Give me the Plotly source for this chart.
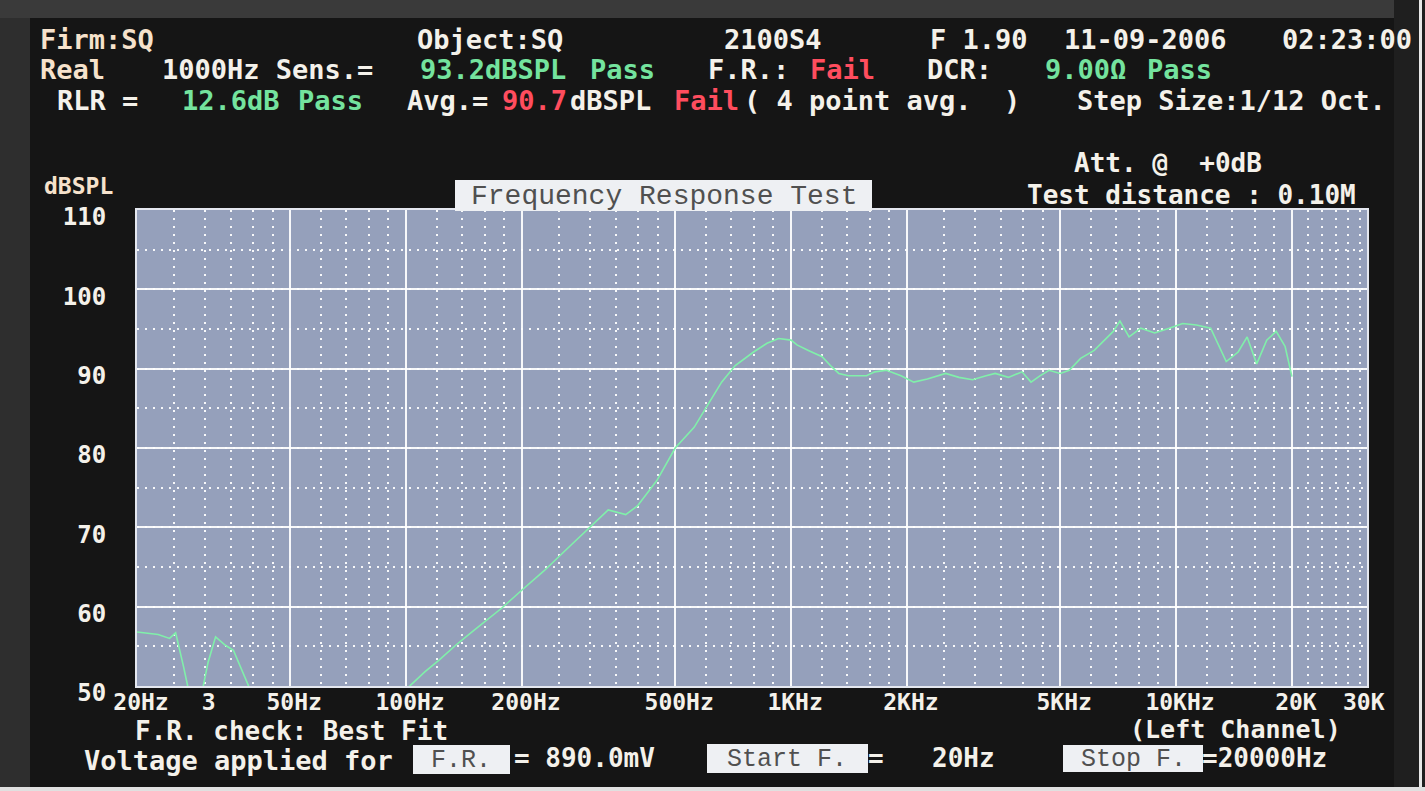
import plotly.graph_objects as go

# ---------------- data ----------------
freq_hz = [20, 21.5, 22.7, 24.3, 25.2, 26.4, 27.5, 29.3, 30.6, 32.0, 33.0, 34.0, 35.6, 37.4, 39.3,
           42, 46, 49, 53, 60, 75, 90, 103.5, 112, 122, 135, 150, 163, 177, 200, 228, 262, 302,
           335, 372, 399, 448, 500, 560, 608, 660, 716, 799, 866, 928, 1000, 1036, 1109, 1204,
           1265, 1330, 1410, 1570, 1650, 1770, 1930, 2083, 2260, 2520, 2730, 2960, 3210, 3390,
           3670, 3980, 4200, 4430, 4680, 5000, 5280, 5650, 6130, 6500, 6870, 7150, 7550, 8100,
           8800, 9600, 10400, 11300, 12300, 13500, 14500, 15300, 16200, 17200, 18200, 19200, 20000]
spl_db = [56.8, 56.6, 56.5, 56.0, 56.7, 52.5, 48.5, 48.5, 53.0, 56.2, 55.6, 55.1, 54.5, 52.0, 49.6,
          48.0, 49.3, 49.8, 48.3, 47.0, 46.5, 47.5, 50.2, 51.8, 53.3, 55.2, 57.0, 58.4, 59.8, 62.1,
          64.5, 67.3, 70.1, 72.2, 71.6, 72.7, 75.9, 80.0, 82.6, 85.5, 88.3, 90.4, 92.1, 93.2, 93.8,
          93.6, 93.0, 92.3, 91.5, 90.4, 89.4, 89.1, 89.1, 89.6, 89.8, 89.1, 88.3, 88.7, 89.4, 88.9,
          88.6, 89.1, 89.4, 88.9, 89.6, 88.3, 89.1, 89.8, 89.4, 89.8, 91.3, 92.3, 93.6, 94.7, 96.0,
          94.0, 95.1, 94.5, 95.1, 95.7, 95.5, 95.1, 90.9, 92.1, 94.0, 90.6, 93.6, 94.7, 92.8, 89.0]

x_label_vals = [20, 30, 50, 100, 200, 500, 1000, 2000, 5000, 10000, 20000, 30000]
x_label_text = ["20Hz", "3", "50Hz", "100Hz", "200Hz", "500Hz", "1KHz", "2KHz", "5KHz",
                "10KHz", "20K", "30K"]
x_major_grid = [50, 100, 200, 500, 1000, 2000, 5000, 10000, 20000]
x_minor_grid = [25, 30, 35, 40, 45, 60, 70, 80, 90, 120, 140, 160, 180, 250, 300, 350, 400, 450,
                600, 700, 800, 900, 1200, 1400, 1600, 1800, 2500, 3000, 3500, 4000, 4500,
                6000, 7000, 8000, 9000, 12000, 14000, 16000, 18000, 22000, 24000, 26000, 28000, 30000]
y_tick_vals = [50, 60, 70, 80, 90, 100, 110]

# ---------------- geometry ----------------
W, H = 1425, 791
L, R, T, B = 137, 1367, 210, 686
XRANGE = [1.30103, 4.496]


def px(x):
    return (x - L) / (R - L)


def py(y):
    return (B - y) / (B - T)


MONO = "DejaVu Sans Mono"
WHITE = "#f4f1ea"
CREAM = "#f6e2cc"
GREEN = "#74e39e"
RED = "#ff4d5e"
BOXTXT = "#505050"

fig = go.Figure()
fig.add_trace(go.Scatter(x=freq_hz, y=spl_db, mode="lines",
                         line=dict(color="#80f0aa", width=1.6),
                         showlegend=False, hoverinfo="skip"))
fig.add_trace(go.Scatter(x=x_label_vals, y=[None] * len(x_label_vals), xaxis="x2",
                         mode="lines", showlegend=False, hoverinfo="skip"))

texts = [
    ("Firm:SQ", 38, 40, CREAM, 27), ("Object:SQ", 415, 40, WHITE, 27), ("2100S4", 722, 40, WHITE, 27),
    ("F 1.90", 928, 40, WHITE, 27), ("11-09-2006", 1062, 40, WHITE, 27), ("02:23:00", 1280, 40, WHITE, 27),
    ("Real", 38, 70, CREAM, 27), ("1000Hz Sens.=", 160, 70, WHITE, 27), ("93.2dBSPL", 418, 70, GREEN, 27),
    ("Pass", 588, 70, GREEN, 27), ("F.R.:", 706, 70, WHITE, 27), ("Fail", 808, 70, RED, 27),
    ("DCR:", 925, 70, WHITE, 27), ("9.00Ω", 1043, 70, GREEN, 27), ("Pass", 1145, 70, GREEN, 27),
    ("RLR =", 55, 101, WHITE, 27), ("12.6dB", 180, 101, GREEN, 27), ("Pass", 296, 101, GREEN, 27),
    ("Avg.=", 405, 101, WHITE, 27), ("90.7", 500, 101, RED, 27), ("dBSPL", 568, 101, WHITE, 27),
    ("Fail", 672, 101, RED, 27), ("( 4 point avg.  )", 742, 101, WHITE, 27),
    ("Step Size:1/12 Oct.", 1075, 101, WHITE, 27),
    ("Att. @  +0dB", 1072, 163, WHITE, 26), ("Test distance : 0.10M", 1025, 195, WHITE, 26),
    ("dBSPL", 42, 186, CREAM, 23),
    ("F.R. check: Best Fit", 133, 731, WHITE, 26), ("(Left Channel)", 1128, 729, WHITE, 25),
    ("Voltage applied for", 82, 760, WHITE, 27), ("= 890.0mV", 512, 758, WHITE, 26),
    ("=", 866, 758, WHITE, 26), ("20Hz", 930, 758, WHITE, 26), ("=20000Hz", 1200, 758, WHITE, 26),
]

annotations = []
for t, x, y, c, s in texts:
    annotations.append(dict(text=t, x=px(x), y=py(y), xref="paper", yref="paper",
                            xanchor="left", yanchor="middle", showarrow=False,
                            font=dict(family=MONO, size=s, color=c, weight="bold")))

boxes = [
    ("Frequency Response Test", 455, 872, 180, 211, 28),
    ("F.R.", 413, 510, 745, 774, 25),
    ("Start F.", 707, 868, 744, 773, 25),
    ("Stop F.", 1063, 1203, 745, 772, 25),
]
shapes = [
    dict(type="rect", xref="paper", yref="paper", x0=px(0), x1=px(30), y0=py(0), y1=py(H),
         fillcolor="#2e2e2e", line=dict(width=0), layer="below"),
    dict(type="rect", xref="paper", yref="paper", x0=px(0), x1=px(W), y0=py(0), y1=py(18),
         fillcolor="#3a3a3a", line=dict(width=0), layer="below"),
    dict(type="rect", xref="paper", yref="paper", x0=px(1394), x1=px(W), y0=py(0), y1=py(H),
         fillcolor="#1f1f1f", line=dict(width=0), layer="below"),
    dict(type="rect", xref="paper", yref="paper", x0=px(1419), x1=px(1422), y0=py(0), y1=py(H),
         fillcolor="#e8e8e8", line=dict(width=0), layer="below"),
    dict(type="rect", xref="paper", yref="paper", x0=px(0), x1=px(W), y0=py(787), y1=py(H),
         fillcolor="#e0e0e0", line=dict(width=0), layer="below"),
]
for t, x0, x1, y0, y1, s in boxes:
    shapes.append(dict(type="rect", xref="paper", yref="paper", x0=px(x0), x1=px(x1),
                       y0=py(y1), y1=py(y0), fillcolor="#eef0f3", line=dict(width=0),
                       layer="above"))
    annotations.append(dict(text=t, x=px((x0 + x1) / 2), y=py((y0 + y1) / 2 + 1),
                            xref="paper", yref="paper", xanchor="center", yanchor="middle",
                            showarrow=False,
                            font=dict(family="Liberation Mono", size=s, color=BOXTXT)))

GRID = "rgba(255,255,255,0.92)"
fig.update_layout(
    width=W, height=H,
    margin=dict(l=L, r=W - R, t=T, b=H - B, pad=0),
    paper_bgcolor="#151515",
    plot_bgcolor="#95a0bb",
    showlegend=False,
    xaxis=dict(type="log", range=XRANGE, tickmode="array", tickvals=x_major_grid,
               showticklabels=False, ticks="", showgrid=True, gridcolor=GRID, gridwidth=2,
               zeroline=False, showline=True, mirror=True, linecolor="#e4e7ef", linewidth=2,
               minor=dict(tickmode="array", tickvals=x_minor_grid, showgrid=True,
                          gridcolor=GRID, gridwidth=2, griddash="2px,6px", ticks="")),
    xaxis2=dict(type="log", range=XRANGE, overlaying="x", anchor="y", side="bottom",
                tickmode="array", tickvals=x_label_vals, ticktext=x_label_text,
                showgrid=False, zeroline=False, showline=False, ticks="",
                ticklabelshift=4, ticklabelstandoff=0,
                tickfont=dict(family=MONO, size=23, color=WHITE, weight="bold")),
    yaxis=dict(range=[50, 110], tickmode="array", tickvals=y_tick_vals, ticks="",
               showgrid=True, gridcolor=GRID, gridwidth=2, zeroline=False,
               showline=True, mirror=True, linecolor="#e4e7ef", linewidth=2,
               ticklabelstandoff=24, ticklabelshift=7,
               tickfont=dict(family=MONO, size=24, color=WHITE, weight="bold"),
               minor=dict(tickmode="linear", tick0=0, dtick=5, showgrid=True,
                          gridcolor=GRID, gridwidth=2, griddash="2px,6px", ticks="")),
    annotations=annotations,
    shapes=shapes,
)

fig.write_html("out.html", config={"displayModeBar": False})

# remove the browser's default page margin so the figure sits at the window origin
with open("out.html", "r", encoding="utf-8") as fh:
    html = fh.read()
html = html.replace("<head>", "<head><style>html,body{margin:0;padding:0;overflow:hidden;"
                              "background:#151515;}</style>", 1)
with open("out.html", "w", encoding="utf-8") as fh:
    fh.write(html)
